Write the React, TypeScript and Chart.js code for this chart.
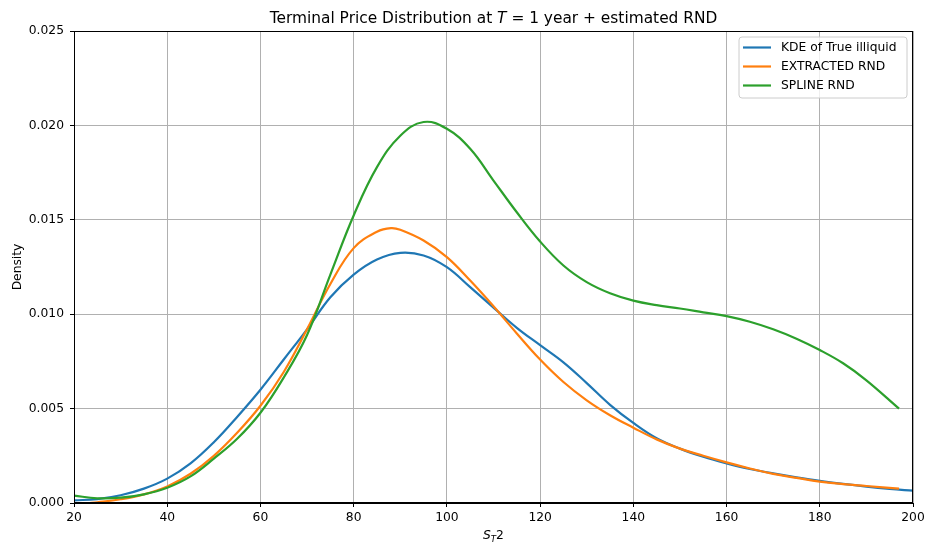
import React, { useEffect, useRef } from "react";
import { Chart, registerables } from "chart.js";

Chart.register(...registerables);

const kdeX = [20, 25, 30, 35, 40, 45, 50, 55, 60, 65, 70, 75, 80, 85, 90, 95, 100, 105, 110, 115, 120, 125, 130, 135, 140, 145, 150, 155, 160, 165, 170, 175, 180, 185, 190, 195, 200];
const kdeY = [0.00014, 0.00021, 0.00041, 0.00076, 0.00129, 0.0021, 0.00322, 0.00456, 0.006, 0.0076, 0.0092, 0.0109, 0.0121, 0.0129, 0.01325, 0.01311, 0.01249, 0.01143, 0.01035, 0.00928, 0.00836, 0.00745, 0.00635, 0.0052, 0.00424, 0.00343, 0.00288, 0.00245, 0.0021, 0.0018, 0.00157, 0.00136, 0.00117, 0.00101, 0.00087, 0.00075, 0.00065];

const extX = [23, 25, 30, 35, 40, 45, 50, 55, 60, 65, 70, 75, 80, 85, 88, 90, 95, 100, 105, 110, 115, 120, 125, 130, 135, 140, 145, 150, 155, 160, 165, 170, 175, 180, 185, 190, 197];
const extY = [0.0, 0.00004, 0.0002, 0.00046, 0.00088, 0.00155, 0.0025, 0.00372, 0.00515, 0.00694, 0.0092, 0.0116, 0.0135, 0.01437, 0.01456, 0.01447, 0.0139, 0.01302, 0.01178, 0.01042, 0.00898, 0.0076, 0.00641, 0.00544, 0.00465, 0.00399, 0.00337, 0.00288, 0.0025, 0.00215, 0.00183, 0.00154, 0.00133, 0.00113, 0.001, 0.0009, 0.00076];

const splX = [20, 25, 30, 35, 40, 45, 50, 55, 60, 65, 70, 75, 80, 85, 90, 95, 100, 105, 110, 115, 120, 125, 130, 135, 140, 145, 150, 155, 160, 165, 170, 175, 180, 185, 190, 197];
const splY = [0.00039, 0.00025, 0.00028, 0.00046, 0.00081, 0.00141, 0.00235, 0.0034, 0.00478, 0.00665, 0.0089, 0.0121, 0.01523, 0.01779, 0.01945, 0.02018, 0.01982, 0.01876, 0.01708, 0.0154, 0.01385, 0.01258, 0.0117, 0.01111, 0.01072, 0.01048, 0.0103, 0.0101, 0.0099, 0.0096, 0.0092, 0.0087, 0.0081, 0.0074, 0.0065, 0.005];

const seriesLabels = ["KDE of True illiquid", "EXTRACTED RND", "SPLINE RND"];
const seriesColors = ["#1f77b4", "#ff7f0e", "#2ca02c"];
const xTicksRange = [20, 200, 20];
const yTicksRange = [0, 0.025, 0.005];

const FONT = "'DejaVu Sans', sans-serif";

const toPts = (xs: number[], ys: number[]) => xs.map((x, i) => ({ x, y: ys[i] }));

const decorPlugin = {
  id: "decor",
  afterDraw(chart: any) {
    const ctx = chart.ctx;
    const a = chart.chartArea;
    ctx.save();
    ctx.strokeStyle = "#000";
    ctx.lineWidth = 1;
    ctx.strokeRect(Math.round(a.left) + 0.5, Math.round(a.top) + 0.5, Math.round(a.right - a.left) - 1, Math.round(a.bottom - a.top) - 1);

    const tsize = 15.4;
    const parts = [
      { t: "Terminal Price Distribution at ", f: `${tsize}px ${FONT}` },
      { t: "T", f: `italic ${tsize}px ${FONT}` },
      { t: " = 1", f: `${tsize}px ${FONT}` },
      { t: " year + estimated RND", f: `${tsize}px ${FONT}` },
    ];
    let total = 0;
    for (const p of parts) { ctx.font = p.f; total += ctx.measureText(p.t).width; }
    let x = (a.left + a.right) / 2 - total / 2;
    ctx.fillStyle = "#000";
    ctx.textBaseline = "alphabetic";
    ctx.textAlign = "left";
    for (const p of parts) { ctx.font = p.f; ctx.fillText(p.t, x, 23); x += ctx.measureText(p.t).width; }

    ctx.save();
    ctx.translate(21, (a.top + a.bottom) / 2);
    ctx.rotate(-Math.PI / 2);
    ctx.font = `12.3px ${FONT}`;
    ctx.textAlign = "center";
    ctx.fillText("Density", 0, 0);
    ctx.restore();

    const xs = [
      { t: "S", f: `italic 12.3px ${FONT}`, dy: 0 },
      { t: "T", f: `italic 8.6px ${FONT}`, dy: 2.5 },
      { t: "2", f: `12.3px ${FONT}`, dy: 0 },
    ];
    let tw = 0;
    for (const p of xs) { ctx.font = p.f; tw += ctx.measureText(p.t).width; }
    let lx = (a.left + a.right) / 2 - tw / 2;
    for (const p of xs) { ctx.font = p.f; ctx.fillText(p.t, lx, 539 + p.dy); lx += ctx.measureText(p.t).width; }

    const bx = 739, by = 37, bw = 168, bh = 61;
    ctx.beginPath();
    const r = 3;
    ctx.moveTo(bx + r, by);
    ctx.lineTo(bx + bw - r, by);
    ctx.quadraticCurveTo(bx + bw, by, bx + bw, by + r);
    ctx.lineTo(bx + bw, by + bh - r);
    ctx.quadraticCurveTo(bx + bw, by + bh, bx + bw - r, by + bh);
    ctx.lineTo(bx + r, by + bh);
    ctx.quadraticCurveTo(bx, by + bh, bx, by + bh - r);
    ctx.lineTo(bx, by + r);
    ctx.quadraticCurveTo(bx, by, bx + r, by);
    ctx.closePath();
    ctx.fillStyle = "rgba(255,255,255,0.8)";
    ctx.fill();
    ctx.strokeStyle = "#cccccc";
    ctx.lineWidth = 1;
    ctx.stroke();
    ctx.font = `12.3px ${FONT}`;
    ctx.textBaseline = "middle";
    chart.data.datasets.forEach((ds: any, i: number) => {
      const yy = 47.5 + i * 19;
      ctx.strokeStyle = ds.borderColor;
      ctx.lineWidth = 2.2;
      ctx.beginPath();
      ctx.moveTo(743, yy);
      ctx.lineTo(771, yy);
      ctx.stroke();
      ctx.fillStyle = "#000";
      ctx.fillText(ds.label, 781, yy);
    });
    ctx.restore();
  },
};

export default function App() {
  const ref = useRef<HTMLCanvasElement>(null);
  useEffect(() => {
    document.body.style.margin = "0";
    const data = [toPts(kdeX, kdeY), toPts(extX, extY), toPts(splX, splY)];
    const chart = new Chart(ref.current!, {
      type: "line",
      data: {
        datasets: data.map((d, i) => ({
          label: seriesLabels[i],
          data: d,
          borderColor: seriesColors[i],
          backgroundColor: seriesColors[i],
          borderWidth: 2.2,
          pointRadius: 0,
          tension: 0.4,
          fill: false,
          order: 3 - i,
        })),
      },
      options: {
        animation: false,
        responsive: false,
        maintainAspectRatio: false,
        layout: { padding: { top: 31, right: 12, left: 0, bottom: 0 } },
        plugins: { legend: { display: false }, title: { display: false }, tooltip: { enabled: false } },
        scales: {
          x: {
            type: "linear",
            min: xTicksRange[0],
            max: xTicksRange[1],
            afterFit: (s: any) => { s.height = 40; s.paddingLeft = 0; s.paddingRight = 0; },
            ticks: { stepSize: xTicksRange[2], color: "#000", font: { family: FONT, size: 12.3 }, padding: 3, maxRotation: 0 },
            grid: { color: "#b0b0b0", lineWidth: 1, tickColor: "#000", tickLength: 4, drawTicks: true },
            border: { display: true, color: "#000" },
          },
          y: {
            type: "linear",
            min: yTicksRange[0],
            max: yTicksRange[1],
            afterFit: (s: any) => { s.width = 74; s.paddingTop = 0; s.paddingBottom = 0; },
            ticks: { stepSize: yTicksRange[2], color: "#000", font: { family: FONT, size: 12.3 }, padding: 6, callback: (v: any) => Number(v).toFixed(3) },
            grid: { color: "#b0b0b0", lineWidth: 1, tickColor: "#000", tickLength: 4, drawTicks: true },
            border: { display: true, color: "#000" },
          },
        },
      },
      plugins: [decorPlugin],
    });
    return () => chart.destroy();
  }, []);
  return <canvas ref={ref} width={925} height={543} style={{ display: "block" }} />;
}
